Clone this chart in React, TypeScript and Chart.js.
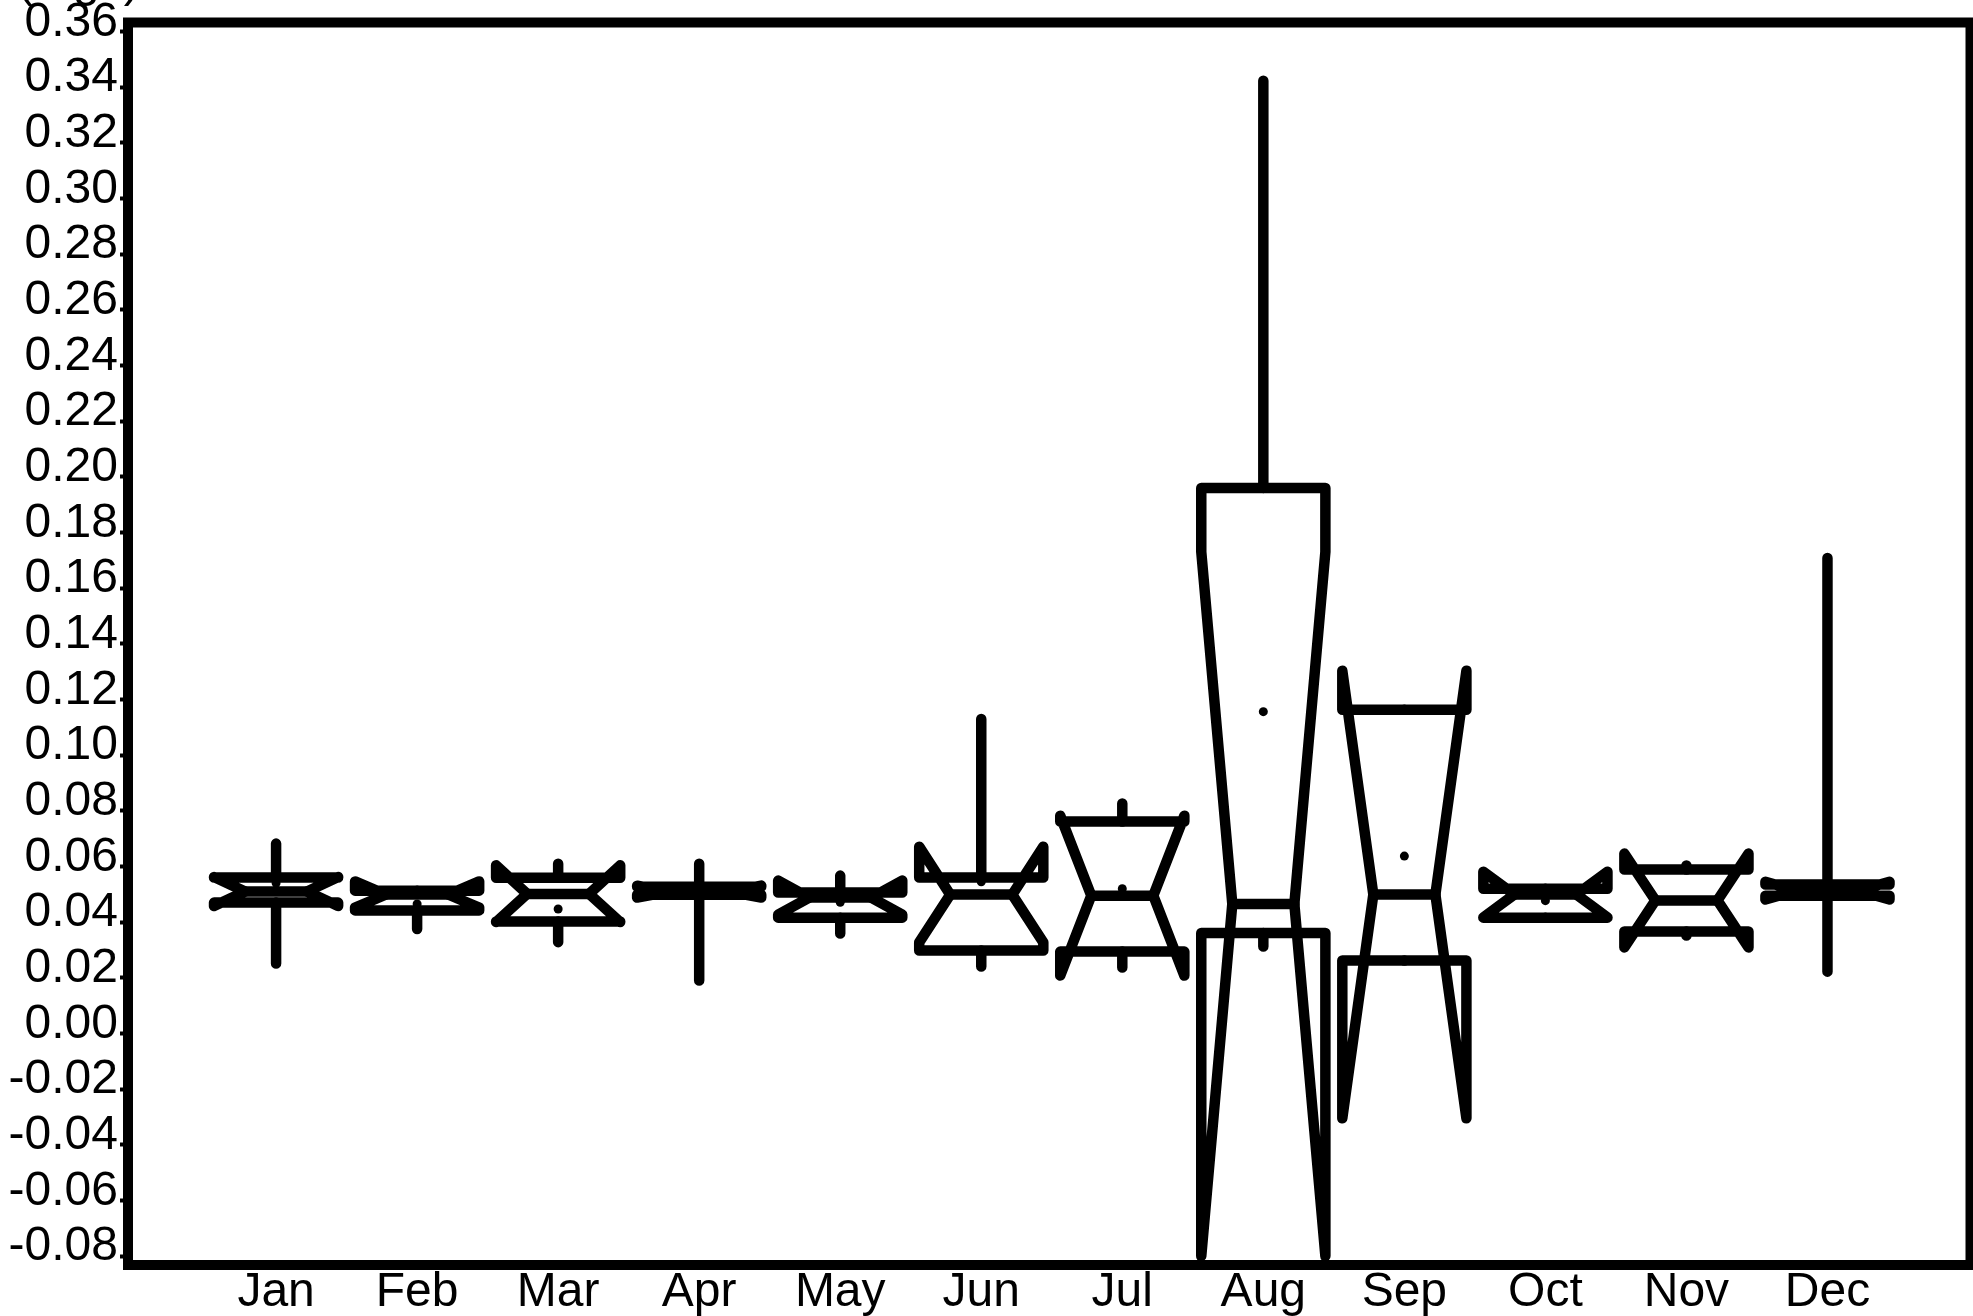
import React, { useEffect, useRef } from 'react';
import { Chart, registerables } from 'chart.js';

Chart.register(...registerables);

// ---- data ----
const months = ['Jan', 'Feb', 'Mar', 'Apr', 'May', 'Jun', 'Jul', 'Aug', 'Sep', 'Oct', 'Nov', 'Dec'];
const whiskerLow = [0.0251, 0.0375, 0.0328, 0.0190, 0.0359, 0.0240, 0.0237, 0.0312, 0.0262, 0.0416, 0.0352, 0.0222];
const quartile1 = [0.0470, 0.0442, 0.0402, 0.0498, 0.0416, 0.0298, 0.0294, 0.0361, 0.0262, 0.0416, 0.0366, 0.0495];
const medians = [0.0510, 0.0499, 0.0501, 0.0509, 0.0488, 0.0499, 0.0495, 0.0465, 0.0499, 0.0499, 0.0478, 0.0513];
const quartile3 = [0.0560, 0.0513, 0.0559, 0.0527, 0.0506, 0.0560, 0.0761, 0.1960, 0.1163, 0.0520, 0.0589, 0.0535];
const whiskerHigh = [0.0682, 0.0513, 0.0610, 0.0610, 0.0567, 0.1130, 0.0826, 0.3423, 0.1163, 0.0520, 0.0603, 0.1708];
const notchLow = [0.0458, 0.0452, 0.0400, 0.0488, 0.0427, 0.0327, 0.0208, -0.0800, -0.0305, 0.0417, 0.0309, 0.0481];
const notchHigh = [0.0562, 0.0546, 0.0604, 0.0531, 0.0549, 0.0671, 0.0782, 0.1730, 0.1303, 0.0581, 0.0646, 0.0545];
const means = [0.0540, 0.0465, 0.0447, 0.0505, 0.0471, 0.0545, 0.0520, 0.1156, 0.0637, 0.0477, 0.0478, 0.0513];
const yTicks = [0.36, 0.34, 0.32, 0.30, 0.28, 0.26, 0.24, 0.22, 0.20, 0.18, 0.16, 0.14, 0.12, 0.10, 0.08, 0.06, 0.04, 0.02, 0.00, -0.02, -0.04, -0.06, -0.08];
const yUnit = '(mg/l)';

const FONT = "'Liberation Sans', Arial, Helvetica, sans-serif";

export default function App() {
  const ref = useRef<HTMLCanvasElement>(null);

  useEffect(() => {
    const canvas = ref.current;
    if (!canvas) return;

    const boxHalf = 0.44;
    const notchHalf = 0.22;

    const boxPlugin = {
      id: 'notchedBoxes',
      beforeDatasetsDraw(chart: any) {
        const { ctx, chartArea, scales } = chart;
        const xs = scales.x;
        const ys = scales.y;
        ctx.save();
        ctx.beginPath();
        ctx.rect(chartArea.left, chartArea.top, chartArea.right - chartArea.left, chartArea.bottom - chartArea.top);
        ctx.clip();
        ctx.strokeStyle = '#000';
        ctx.lineWidth = 10.5;
        ctx.lineJoin = 'round';
        ctx.lineCap = 'round';
        months.forEach((_, i) => {
          const L = xs.getPixelForValue(i - boxHalf);
          const R = xs.getPixelForValue(i + boxHalf);
          const cL = xs.getPixelForValue(i - notchHalf);
          const cR = xs.getPixelForValue(i + notchHalf);
          const c = xs.getPixelForValue(i);
          const q1 = ys.getPixelForValue(quartile1[i]);
          const q3 = ys.getPixelForValue(quartile3[i]);
          const md = ys.getPixelForValue(medians[i]);
          const nl = ys.getPixelForValue(notchLow[i]);
          const nh = ys.getPixelForValue(notchHigh[i]);
          const wl = ys.getPixelForValue(whiskerLow[i]);
          const wh = ys.getPixelForValue(whiskerHigh[i]);
          // whiskers
          ctx.beginPath();
          ctx.moveTo(c, q3);
          ctx.lineTo(c, wh);
          ctx.moveTo(c, q1);
          ctx.lineTo(c, wl);
          ctx.stroke();
          // notched box
          const px = [L, R, R, cR, R, R, L, L, cL, L, L];
          const py = [q1, q1, nl, md, nh, q3, q3, nh, md, nl, q1];
          ctx.beginPath();
          ctx.moveTo(px[0], py[0]);
          for (let k = 1; k < px.length; k++) ctx.lineTo(px[k], py[k]);
          ctx.closePath();
          ctx.stroke();
          // median
          ctx.beginPath();
          ctx.moveTo(cL, md);
          ctx.lineTo(cR, md);
          ctx.stroke();
        });
        ctx.restore();
      },
      afterDraw(chart: any) {
        const { ctx, chartArea } = chart;
        ctx.save();
        ctx.strokeStyle = '#000';
        ctx.lineWidth = 10;
        ctx.lineJoin = 'miter';
        ctx.strokeRect(chartArea.left, chartArea.top, chartArea.right + 2 - chartArea.left, chartArea.bottom - chartArea.top);
        ctx.fillStyle = '#000';
        ctx.font = `48px ${FONT}`;
        ctx.textAlign = 'left';
        ctx.textBaseline = 'alphabetic';
        ctx.fillText(yUnit, 17, -4);
        ctx.restore();
      },
    };

    const chart = new Chart(canvas, {
      type: 'scatter',
      data: {
        datasets: [
          {
            data: means.map((m, i) => ({ x: i, y: m })),
            pointRadius: 4.5,
            pointHoverRadius: 4.5,
            pointBackgroundColor: '#000',
            pointBorderWidth: 0,
            borderColor: '#000',
            showLine: false,
          },
        ],
      },
      options: {
        responsive: false,
        animation: false,
        devicePixelRatio: 1,
        events: [],
        layout: { padding: { top: 22.5, right: 0, left: 0, bottom: 0 } },
        plugins: { legend: { display: false }, tooltip: { enabled: false } },
        scales: {
          x: {
            type: 'linear',
            min: -1.05,
            max: 12.0,
            grid: { display: false },
            border: { display: false },
            afterBuildTicks: (s: any) => {
              s.ticks = months.map((_, i) => ({ value: i }));
            },
            afterFit: (s: any) => {
              s.height = 51;
              s.paddingLeft = 0;
              s.paddingRight = 0;
            },
            ticks: {
              autoSkip: false,
              maxRotation: 0,
              minRotation: 0,
              padding: -9,
              color: '#000',
              font: { family: FONT, size: 48 },
              callback: (_v: any, i: number) => months[i],
            },
          },
          y: {
            type: 'linear',
            min: -0.0832,
            max: 0.3632,
            grid: { display: true, drawOnChartArea: false, drawTicks: true, tickLength: 8, tickWidth: 4, tickColor: '#000' },
            border: { display: false },
            afterBuildTicks: (s: any) => {
              s.ticks = yTicks.map((v) => ({ value: v }));
            },
            afterFit: (s: any) => {
              s.width = 128;
              s.paddingTop = 0;
              s.paddingBottom = 0;
            },
            ticks: {
              autoSkip: false,
              padding: 2,
              labelOffset: -9,
              color: '#000',
              font: { family: FONT, size: 48 },
              callback: (v: any) => Number(v).toFixed(2),
            },
          },
        },
      },
      plugins: [boxPlugin],
    } as any);

    return () => chart.destroy();
  }, []);

  return (
    <div style={{ position: 'fixed', left: 0, top: 0, width: 1973, height: 1316, overflow: 'hidden', background: '#fff' }}>
      <canvas ref={ref} width={1973} height={1316} style={{ display: 'block' }} />
    </div>
  );
}
